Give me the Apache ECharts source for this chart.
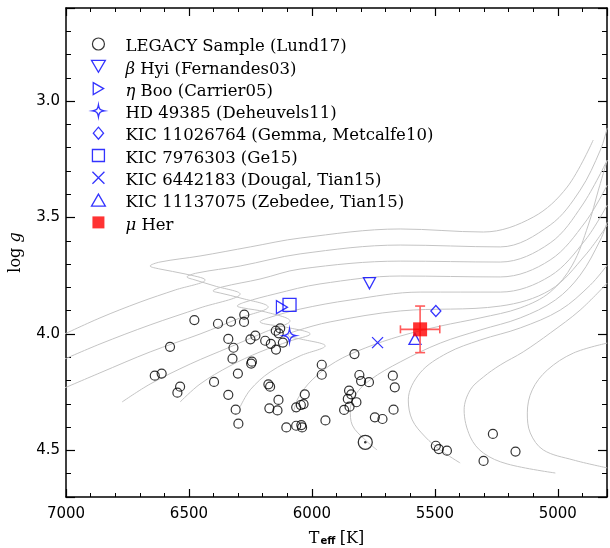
<!DOCTYPE html>
<html>
<head>
<meta charset="utf-8">
<script src="https://cdn.jsdelivr.net/npm/echarts@6/dist/echarts.min.js"></script>
<style>
  html, body { margin: 0; padding: 0; background: #fff; }
  #chart { width: 610px; height: 548px; }
</style>
</head>
<body>
<div id="chart"></div>
<script>
// LEGACY sample (Lund et al. 2017): effective temperature [K] and log g
const legacyTeff = [
  6478, 6382, 6329, 6275, 6276, 6577, 6340, 6319, 6323, 6244, 6247, 6230, 6250, 6190, 6167,
  6146, 6147, 6129, 6135, 6118, 6639, 6611, 6536, 6547, 6398, 6301, 6340, 6310, 6299, 6177,
  6170, 6136, 6173, 6140, 6029, 6034, 6045, 6064, 5960, 5960, 6104, 6064, 6043, 6040, 5945,
  5827, 5807, 5800, 5768, 5671, 5663, 5849, 5840, 5854, 5819, 5847, 5869, 5744, 5713, 5668,
  5496, 5484, 5451, 5264, 5172, 5302
];
const legacyLogg = [
  3.940, 3.956, 3.947, 3.917, 3.948, 4.055, 4.021, 4.059, 4.106, 4.119, 4.127, 4.007, 4.023, 4.029, 4.042,
  4.067, 3.986, 3.976, 3.997, 4.037, 4.179, 4.170, 4.226, 4.252, 4.206, 4.170, 4.261, 4.325, 4.385, 4.216,
  4.226, 4.283, 4.319, 4.328, 4.259, 4.301, 4.305, 4.315, 4.132, 4.175, 4.401, 4.394, 4.391, 4.401, 4.371,
  4.086, 4.176, 4.202, 4.207, 4.179, 4.229, 4.243, 4.259, 4.279, 4.293, 4.312, 4.326, 4.358, 4.365, 4.325,
  4.480, 4.494, 4.501, 4.429, 4.505, 4.545
];

// Individual stars [Teff, log g]
const betaHyi     = [5766, 3.782];
const etaBoo      = [6122, 3.885];
const hd49385     = [6091, 4.007];
const kic11026764 = [5496, 3.901];
const kic7976303  = [6091, 3.875];
const kic6442183  = [5733, 4.037];
const kic11137075 = [5581, 4.021];
const muHer       = [5560, 3.98];
const muHerErr    = [80, 0.10];
const sun         = [5783, 4.465];

// Evolutionary tracks, lowest to highest mass: [Teff, log g]
const track1 = [[4799,4.575],[4937,4.541],[5059,4.498],[5112,4.425],[5124,4.339],[5104,4.240],[5043,4.155],[4937,4.082],[4799,4.039]];
const track2 = [[5010,4.597],[5206,4.558],[5303,4.511],[5356,4.442],[5381,4.326],[5356,4.240],[5303,4.185],[5234,4.133],[5141,4.077],[5031,3.996],[4909,3.897],[4799,3.781]];
const track3 = [[5397,4.554],[5478,4.498],[5539,4.442],[5592,4.369],[5608,4.283],[5560,4.167],[5450,4.082],[5316,4.026],[5153,3.974],[4990,3.897],[4868,3.790],[4799,3.704]];
const track4 = [[5735,4.498],[5783,4.455],[5836,4.391],[5844,4.326],[5824,4.262],[5763,4.197],[5641,4.120],[5478,4.039],[5316,3.983],[5153,3.931],[5010,3.854],[4909,3.747],[4827,3.596],[4799,3.519]];
const track5 = [[6076,4.339],[6056,4.275],[5999,4.197],[5905,4.120],[5783,4.060],[5641,4.009],[5478,3.966],[5316,3.931],[5153,3.888],[5031,3.820],[4941,3.704],[4876,3.532],[4835,3.382],[4799,3.253]];
const track6 = [[6292,4.313],[6251,4.240],[6170,4.163],[6048,4.094],[5946,4.051],[6048,4.021],[6089,4.013],[6097,4.004],[6064,3.987],[5926,3.948],[5641,3.901],[5234,3.880],[5031,3.811],[4888,3.661],[4799,3.532]];
const track7 = [[6536,4.292],[6455,4.215],[6333,4.137],[6211,4.077],[6089,4.030],[6007,4.000],[6109,3.970],[6190,3.957],[6211,3.948],[6178,3.931],[6048,3.893],[5844,3.854],[5560,3.820],[5234,3.820],[5031,3.751],[4888,3.596],[4799,3.446]];
const track8 = [[6772,4.292],[6658,4.215],[6495,4.129],[6333,4.056],[6190,3.991],[6089,3.944],[6190,3.905],[6280,3.888],[6304,3.880],[6272,3.863],[6150,3.828],[5967,3.785],[5641,3.751],[5234,3.755],[5031,3.682],[4888,3.519],[4799,3.360]];
const track9 = [[7024,4.240],[6862,4.167],[6658,4.077],[6455,4.000],[6292,3.931],[6178,3.884],[6292,3.845],[6373,3.824],[6402,3.815],[6365,3.798],[6211,3.764],[6048,3.721],[5641,3.687],[5234,3.691],[5031,3.609],[4900,3.446],[4799,3.253]];
const track10 = [[7024,4.116],[6862,4.043],[6658,3.961],[6455,3.888],[6292,3.828],[6394,3.794],[6475,3.768],[6508,3.755],[6467,3.738],[6292,3.708],[6048,3.656],[5641,3.618],[5234,3.626],[5031,3.532],[4909,3.382],[4827,3.210],[4799,3.115]];
const track11 = [[7024,4.009],[6862,3.931],[6699,3.863],[6556,3.811],[6434,3.768],[6516,3.742],[6618,3.721],[6658,3.708],[6618,3.691],[6455,3.665],[6251,3.626],[6048,3.588],[5641,3.549],[5303,3.562],[5100,3.498],[4962,3.369],[4856,3.167]];
const tracks = [track1, track2, track3, track4, track5, track6, track7, track8, track9, track10, track11];

// Axis ranges
const teffRange = [4800, 7000];
const loggRange = [2.6, 4.7];

// Legend entries
const legendNames = [
  'LEGACY Sample (Lund17)',
  'β Hyi (Fernandes03)',
  'η Boo (Carrier05)',
  'HD 49385 (Deheuvels11)',
  'KIC 11026764 (Gemma, Metcalfe10)',
  'KIC 7976303 (Ge15)',
  'KIC 6442183 (Dougal, Tian15)',
  'KIC 11137075 (Zebedee, Tian15)',
  'μ Her'
];

const BLUE = '#0000ff';
const hollowBlue = { color: 'none', borderColor: BLUE, borderWidth: 1.3 };
const SYM = {
  triDown: 'path://M-10,-8.66 L10,-8.66 L0,8.66 Z',
  triRight: 'path://M-8.66,-10 L8.66,0 L-8.66,10 Z',
  star4: 'path://M0,-10 C1.2,-2.5 2.5,-1.2 10,0 C2.5,1.2 1.2,2.5 0,10 C-1.2,2.5 -2.5,1.2 -10,0 C-2.5,-1.2 -1.2,-2.5 0,-10 Z',
  diamond: 'path://M0,-10 L8.5,0 L0,10 L-8.5,0 Z',
  square: 'path://M0,0 L10,0 L10,10 L0,10 Z',
  cross: 'path://M-10,-10 L10,10 M10,-10 L-10,10',
  triUp: 'path://M-10,8.66 L10,8.66 L0,-8.66 Z'
};

const chart = echarts.init(document.getElementById('chart'), null, { renderer: 'canvas' });

const tickFont = { fontFamily: 'DejaVu Sans', fontSize: 15, color: '#000' };
const serif = 'DejaVu Serif';

function xAxisDef(pos, labels) {
  return {
    type: 'value', position: pos, min: teffRange[0], max: teffRange[1], inverse: true,
    splitLine: { show: false },
    axisLine: { show: true, onZero: false, lineStyle: { color: '#000', width: 1.5 } },
    axisTick: { show: true, inside: true, length: 8, lineStyle: { color: '#000', width: 1.2 } },
    minorTick: { show: true, splitNumber: 5, length: 4, lineStyle: { color: '#000', width: 1 } },
    axisLabel: labels ? Object.assign({
      show: true, margin: 10,
      formatter: v => (Math.abs(v % 500) < 1e-6 ? String(v) : '')
    }, tickFont) : { show: false }
  };
}
function yAxisDef(pos, labels) {
  return {
    type: 'value', position: pos, min: loggRange[0], max: loggRange[1], inverse: true,
    splitLine: { show: false },
    axisLine: { show: true, onZero: false, lineStyle: { color: '#000', width: 1.5 } },
    axisTick: { show: true, inside: true, length: 9, lineStyle: { color: '#000', width: 1.2 } },
    minorTick: { show: true, splitNumber: 5, length: 5, lineStyle: { color: '#000', width: 1 } },
    axisLabel: labels ? Object.assign({
      show: true, margin: 6,
      formatter: v => (Math.abs(v * 2 - Math.round(v * 2)) < 1e-6 ? v.toFixed(1) : '')
    }, tickFont) : { show: false }
  };
}

const xMain = xAxisDef('bottom', true);
xMain.name = '{t|T}{s|eff} {t|[K]}';
xMain.nameLocation = 'middle';
xMain.nameGap = 31;
xMain.nameTextStyle = {
  rich: {
    t: { fontFamily: serif, fontSize: 16, color: '#000', lineHeight: 18, verticalAlign: 'bottom' },
    s: { fontFamily: 'DejaVu Sans', fontWeight: 'bold', fontSize: 10, color: '#000', lineHeight: 10, padding: [10, 1, 0, 1], verticalAlign: 'bottom' }
  }
};
const yMain = yAxisDef('left', true);
yMain.name = 'log {i|g}';
yMain.nameLocation = 'middle';
yMain.nameGap = 42;
yMain.nameTextStyle = {
  fontFamily: serif, fontSize: 16, color: '#000',
  rich: { i: { fontFamily: serif, fontStyle: 'italic', fontSize: 16, color: '#000' } }
};

const series = [];
tracks.forEach((t, i) => {
  series.push({
    name: 'track' + (i + 1), type: 'line', data: t, showSymbol: false, smooth: 0.35,
    lineStyle: { color: '#c4c4c4', width: 1 }, z: 1, silent: true
  });
});

series.push({
  name: legendNames[0], type: 'scatter', z: 3,
  data: legacyTeff.map((t, i) => [t, legacyLogg[i]]),
  symbol: 'circle', symbolSize: 9,
  itemStyle: { color: 'none', borderColor: '#000', borderWidth: 1.2 }
});
series.push({
  name: 'Sun', type: 'scatter', z: 3, data: [sun], symbol: 'circle', symbolSize: 14,
  itemStyle: { color: 'none', borderColor: '#000', borderWidth: 1.3 }
});
series.push({
  name: 'Sun centre', type: 'scatter', z: 3, data: [sun], symbol: 'circle', symbolSize: 2.5,
  itemStyle: { color: '#000' }
});

const blueStars = [
  [legendNames[1], betaHyi, SYM.triDown, [12, 11]],
  [legendNames[2], etaBoo, SYM.triRight, [11, 13]],
  [legendNames[3], hd49385, SYM.star4, [13, 14]],
  [legendNames[4], kic11026764, SYM.diamond, [10, 11]],
  [legendNames[5], kic7976303, SYM.square, [13, 13]],
  [legendNames[6], kic6442183, SYM.cross, [11, 11]],
  [legendNames[7], kic11137075, SYM.triUp, [12, 11]]
];
blueStars.forEach(([name, pt, sym, size]) => {
  series.push({
    name, type: 'scatter', z: 4, data: [pt], symbol: sym, symbolSize: size,
    itemStyle: Object.assign({}, hollowBlue)
  });
});

// error bars for mu Her
series.push({
  name: 'μ Her errors', type: 'custom', z: 5, silent: true,
  data: [[muHer[0], muHer[1], muHerErr[0], muHerErr[1]]],
  encode: { x: 0, y: 1 },
  renderItem(params, api) {
    const t = api.value(0), g = api.value(1), dt = api.value(2), dg = api.value(3);
    const l = api.coord([t + dt, g]), r = api.coord([t - dt, g]);
    const u = api.coord([t, g - dg]), d = api.coord([t, g + dg]);
    const style = { stroke: '#ff5c5c', lineWidth: 1.6, fill: null };
    const seg = (x1, y1, x2, y2) => ({ type: 'line', shape: { x1, y1, x2, y2 }, style });
    return {
      type: 'group',
      children: [
        seg(l[0], l[1], r[0], r[1]),
        seg(u[0], u[1], d[0], d[1]),
        seg(l[0], l[1] - 4, l[0], l[1] + 4),
        seg(r[0], r[1] - 4, r[0], r[1] + 4),
        seg(u[0] - 5, u[1], u[0] + 5, u[1]),
        seg(d[0] - 5, d[1], d[0] + 5, d[1])
      ]
    };
  }
});
series.push({
  name: legendNames[8], type: 'scatter', z: 6, data: [muHer], symbol: 'rect', symbolSize: 14,
  itemStyle: { color: '#ff0000' }
});

const legendIcons = [
  ['circle', { color: 'none', borderColor: '#000', borderWidth: 1.2 }],
  [SYM.triDown, hollowBlue],
  [SYM.triRight, hollowBlue],
  [SYM.star4, hollowBlue],
  [SYM.diamond, hollowBlue],
  [SYM.square, hollowBlue],
  [SYM.cross, hollowBlue],
  [SYM.triUp, hollowBlue],
  [SYM.square, { color: '#ff0000', borderWidth: 0 }]
];

chart.setOption({
  animation: false,
  backgroundColor: '#fff',
  grid: { left: 66, right: 3, top: 8, bottom: 51, containLabel: false, outerBoundsMode: 'none' },
  xAxis: [xMain, xAxisDef('top', false)],
  yAxis: [yMain, yAxisDef('right', false)],
  legend: {
    orient: 'vertical', left: 84, top: 29,
    itemWidth: 44, itemHeight: 12, itemGap: 0.8,
    selectedMode: false,
    textStyle: {
      fontFamily: serif, fontSize: 16.5, color: '#000', lineHeight: 14, padding: [6, 0, 0, 0],
      rich: { i: { fontFamily: serif, fontStyle: 'italic', fontSize: 16.5, color: '#000', lineHeight: 14 } }
    },
    formatter: n => n.replace(/^([βημ])/, '{i|$1}'),
    data: legendNames.map((n, i) => ({ name: n, icon: legendIcons[i][0], itemStyle: legendIcons[i][1] }))
  },
  series
});
</script>
</body>
</html>
